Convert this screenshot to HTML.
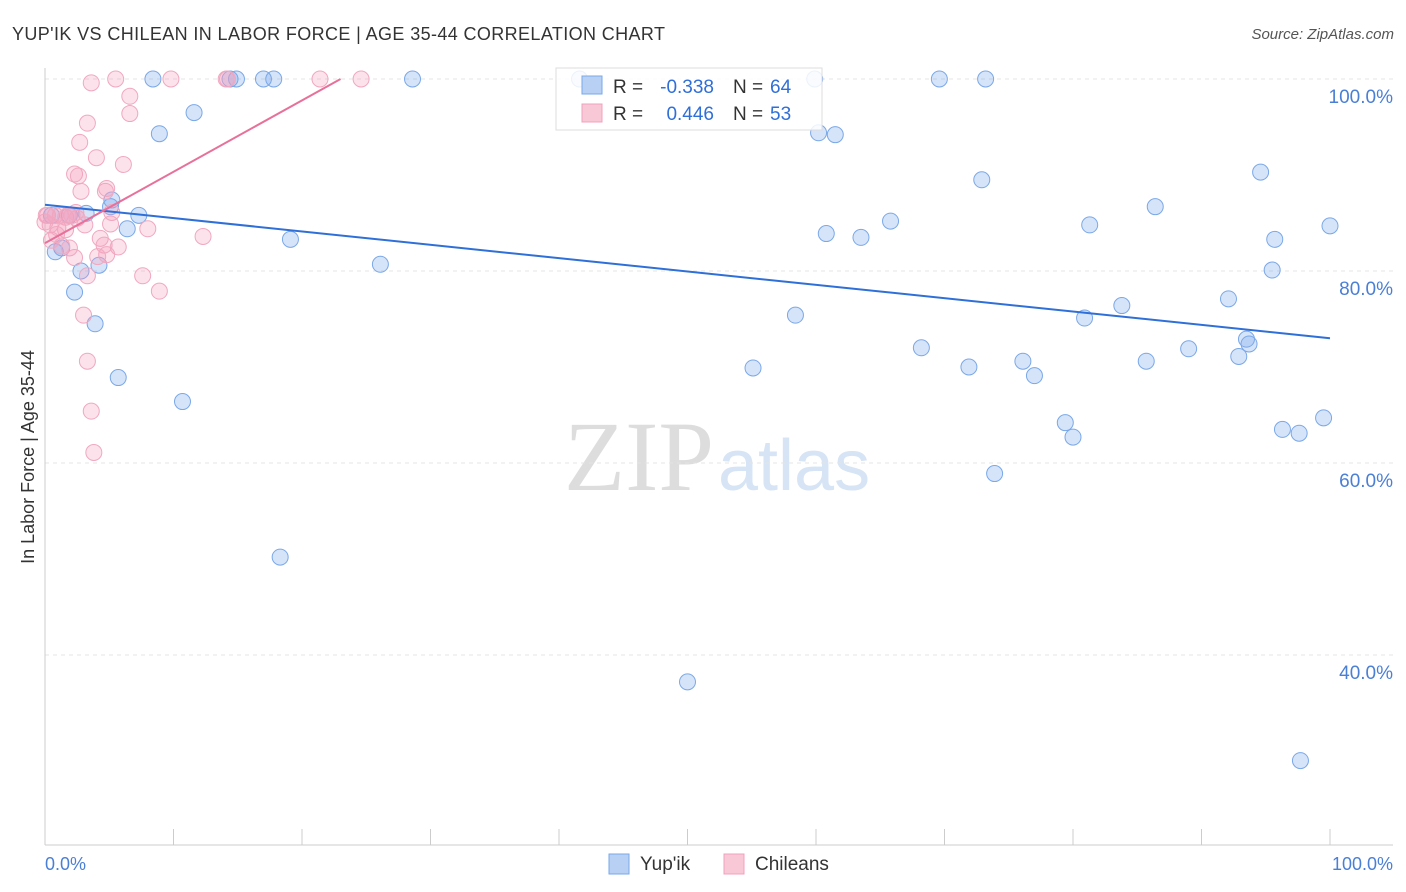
<!DOCTYPE html>
<html><head><meta charset="utf-8"><style>
body{margin:0;background:#fff;font-family:"Liberation Sans",sans-serif;}
svg{display:block}
</style></head><body>
<svg id="chart" width="1406" height="892">
<text x="12" y="40" font-size="18" fill="#333" textLength="653" lengthAdjust="spacing">YUP'IK VS CHILEAN IN LABOR FORCE | AGE 35-44 CORRELATION CHART</text>
<text x="1394" y="39" font-size="15" fill="#555" font-style="italic" text-anchor="end">Source: ZipAtlas.com</text>
<text x="714" y="490" font-size="100" fill="#ddd" text-anchor="end" font-family="Liberation Serif,serif">ZIP</text>
<text x="718" y="490" font-size="72" fill="#d6e4f5">atlas</text>
<text transform="translate(34,457) rotate(-90)" font-size="18" fill="#333" text-anchor="middle">In Labor Force | Age 35-44</text>
<g id="grid"></g><g id="axes"></g><g id="pts"></g><g id="trends"></g>
<g>
<rect x="556" y="68" width="266" height="62" fill="#fff" fill-opacity="0.85" stroke="#ddd"/>
<rect x="582" y="76" width="20" height="18" fill="#b8d0f3" stroke="#7aa8e8"/>
<text x="613" y="93" font-size="19" fill="#333">R =</text>
<text x="714" y="93" font-size="19" fill="#2f6fd8" text-anchor="end">-0.338</text>
<text x="733" y="93" font-size="19" fill="#333">N =</text>
<text x="770" y="93" font-size="19" fill="#2f6fd8">64</text>
<rect x="582" y="104" width="20" height="18" fill="#f8c8d6" stroke="#f0a0bc"/>
<text x="613" y="120" font-size="19" fill="#333">R =</text>
<text x="714" y="120" font-size="19" fill="#2f6fd8" text-anchor="end">0.446</text>
<text x="733" y="120" font-size="19" fill="#333">N =</text>
<text x="770" y="120" font-size="19" fill="#2f6fd8">53</text>
</g>
<g>
<rect x="609" y="854" width="20" height="20" fill="#b8d0f3" stroke="#7aa8e8"/>
<text x="640" y="870" font-size="19" fill="#333">Yup'ik</text>
<rect x="724" y="854" width="20" height="20" fill="#f8c8d6" stroke="#f0a0bc"/>
<text x="755" y="870" font-size="19" fill="#333">Chileans</text>
</g>
<text x="45" y="870" font-size="18" fill="#4a7fd6">0.0%</text>
<text x="1393" y="870" font-size="18" fill="#4a7fd6" text-anchor="end">100.0%</text>
</svg>
<script>
const yTicks=[100,80,60,40];
const yTickLabels=["100.0%","80.0%","60.0%","40.0%"];
const blueX=[8.4,14.9,17.0,17.8,14.4,28.6,41.6,59.9,69.6,73.2,8.9,11.6,60.2,61.5,72.9,94.6,0.8,1.3,3.2,5.2,5.1,7.3,6.4,19.1,2.8,4.2,2.3,3.9,5.7,10.7,18.3,26.1,60.8,63.5,65.8,81.3,86.4,95.7,100,95.5,58.4,80.9,83.8,92.1,55.1,68.2,71.9,76.1,77.0,85.7,89.0,92.9,93.5,93.7,79.4,80.0,96.3,97.6,99.5,73.9,50.0,97.7,0.5,1.9];
const blueY=[100,100,100,100,100,100,100,100,100,100,94.3,96.5,94.4,94.2,89.5,90.3,82.0,82.4,86.0,87.4,86.7,85.8,84.4,83.3,80.0,80.6,77.8,74.5,68.9,66.4,50.2,80.7,83.9,83.5,85.2,84.8,86.7,83.3,84.7,80.1,75.4,75.1,76.4,77.1,69.9,72.0,70.0,70.6,69.1,70.6,71.9,71.1,72.9,72.4,64.2,62.7,63.5,63.1,64.7,58.9,37.2,29.0,85.8,85.8];
const pinkX=[3.6,5.5,9.8,14.1,14.2,21.4,24.6,6.6,6.6,3.3,2.7,4.0,6.1,2.3,2.6,2.8,4.7,4.8,5.2,0.2,0.8,1.2,1.6,1.8,2.1,2.5,3.1,0.4,1.0,1.6,5.1,8.0,12.3,4.3,4.6,5.7,1.9,1.3,2.3,4.8,4.1,7.6,3.3,8.9,3.0,3.3,3.6,3.8,0.5,0.9,0,0.1,2.4];
const pinkY=[99.6,100,100,100,100,100,100,98.2,96.4,95.4,93.4,91.8,91.1,90.1,89.9,88.3,88.3,88.6,86.1,85.8,85.8,85.8,85.6,85.8,85.8,85.5,84.8,84.8,84.5,84.3,84.9,84.4,83.6,83.4,82.7,82.5,82.4,82.6,81.4,81.7,81.5,79.5,79.5,77.9,75.4,70.6,65.4,61.1,83.2,83.8,85.1,85.8,86.1];
const blueTrend=[[0,86.9],[100,73.0]];
const pinkTrend=[[0,82.9],[23,100]];
const NS="http://www.w3.org/2000/svg";
const X=v=>45+v*12.85, Y=v=>79+(100-v)*9.6;
function mk(t,a,p){const e=document.createElementNS(NS,t);for(const k in a)e.setAttribute(k,a[k]);document.getElementById(p).appendChild(e);return e;}
yTicks.forEach((t,i)=>{
 const g=mk('line',{x1:45,x2:1393,y1:Y(t),y2:Y(t),stroke:'#e4e4e4','stroke-dasharray':'4,4'},'grid');
 
 
 const l=mk('text',{x:1393,y:Y(t)+24,'font-size':19,fill:'#4a7fd6','text-anchor':'end'},'grid');
 l.textContent=yTickLabels[i];
 
 
});
const ax=mk('line',{x1:45,x2:1393,y1:845,y2:845,stroke:'#ccc'},'axes');


const ay=mk('line',{x1:45,x2:45,y1:68,y2:845,stroke:'#ccc'},'axes');


for(let i=0;i<=10;i++){const t=mk('line',{x1:X(i*10),x2:X(i*10),y1:829,y2:845,stroke:'#ccc'},'axes');
 
 }
blueX.forEach((v,i)=>{const c=mk('circle',{cx:X(v),cy:Y(blueY[i]),r:8,fill:'rgba(120,165,235,0.3)',stroke:'#7aa8e8','stroke-width':1},'pts');
 
 });
pinkX.forEach((v,i)=>{const c=mk('circle',{cx:X(v),cy:Y(pinkY[i]),r:8,fill:'rgba(245,160,190,0.3)',stroke:'#f0a8c0','stroke-width':1},'pts');
 
 });
const bl=mk('line',{x1:X(blueTrend[0][0]),y1:Y(blueTrend[0][1]),x2:X(blueTrend[1][0]),y2:Y(blueTrend[1][1]),stroke:'#2f6fd8','stroke-width':2},'trends');


const pl=mk('line',{x1:X(pinkTrend[0][0]),y1:Y(pinkTrend[0][1]),x2:X(pinkTrend[1][0]),y2:Y(pinkTrend[1][1]),stroke:'#e8709a','stroke-width':2},'trends');


</script>
</body></html>
